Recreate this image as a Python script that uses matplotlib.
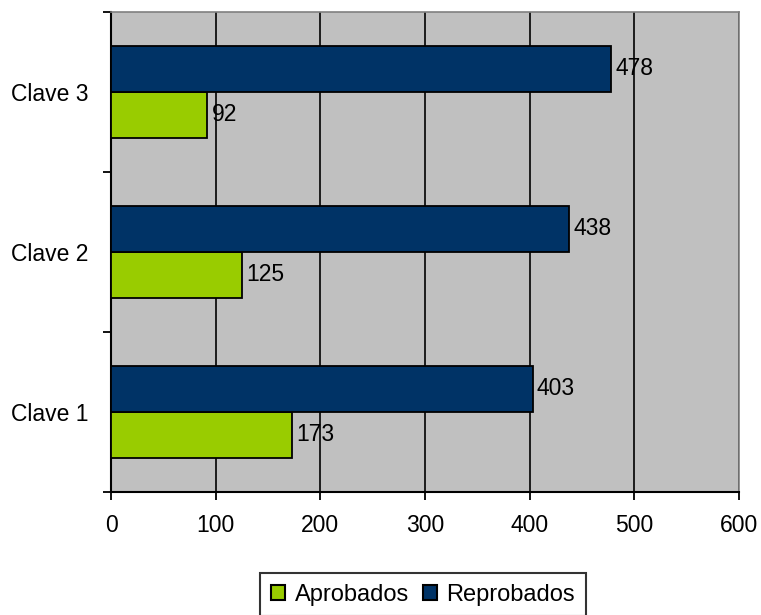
import matplotlib.pyplot as plt
import numpy as np

plt.rcParams['font.family'] = ['Liberation Sans', 'DejaVu Sans']

categories = ['Clave 1', 'Clave 2', 'Clave 3']
aprobados = [173, 125, 92]
reprobados = [403, 438, 478]
x_ticks = [0, 100, 200, 300, 400, 500, 600]

COLOR_APROBADOS = '#99CC00'
COLOR_REPROBADOS = '#003366'
FONT_SIZE = 16.5


def produce_plot():
    fig = plt.figure(figsize=(7.61, 6.15), dpi=100)
    ax = fig.add_axes([0.1459, 0.2, 0.825, 0.7805])
    ax.set_facecolor('#C0C0C0')

    y = np.arange(len(categories))
    height = 0.2875

    ax.barh(y - height / 2, aprobados, height, color=COLOR_APROBADOS, edgecolor='black',
            linewidth=1.3, label='Aprobados', zorder=3)
    ax.barh(y + height / 2, reprobados, height, color=COLOR_REPROBADOS, edgecolor='black',
            linewidth=1.3, label='Reprobados', zorder=3)

    # value labels to the right of each bar
    for yi, v in zip(y - height / 2, aprobados):
        ax.annotate(str(v), (v, yi), xytext=(3, 0), textcoords='offset points',
                    va='center', ha='left', fontsize=FONT_SIZE, zorder=4)
    for yi, v in zip(y + height / 2, reprobados):
        ax.annotate(str(v), (v, yi), xytext=(3, 0), textcoords='offset points',
                    va='center', ha='left', fontsize=FONT_SIZE, zorder=4)

    ax.set_xlim(0, 600)
    ax.set_ylim(-0.5, 2.5)
    ax.set_xticks(x_ticks)
    ax.set_xticklabels([str(t) for t in x_ticks], fontsize=FONT_SIZE)
    ax.tick_params(axis='x', direction='out', length=6, width=1.3, pad=10)

    # major ticks at category boundaries, labels on minor ticks at centres
    ax.set_yticks([-0.5, 0.5, 1.5, 2.5])
    ax.set_yticklabels([])
    ax.tick_params(axis='y', which='major', direction='out', length=6, width=1.3)
    ax.set_yticks(y, minor=True)
    ax.set_yticklabels(categories, minor=True, fontsize=FONT_SIZE)
    ax.tick_params(axis='y', which='minor', length=0, pad=16)

    ax.grid(axis='x', color='black', linewidth=1.2, zorder=1)
    ax.set_axisbelow(True)

    for side in ['left', 'bottom']:
        ax.spines[side].set_color('black')
        ax.spines[side].set_linewidth(1.5)
    for side in ['top', 'right']:
        ax.spines[side].set_color('#808080')
        ax.spines[side].set_linewidth(1.2)

    # legend sits low, partly cut off by the figure edge as in the original
    leg = fig.legend(loc='upper center', bbox_to_anchor=(0.556, 0.0683), ncol=2, fontsize=17,
                     frameon=True, fancybox=False, edgecolor='black',
                     handlelength=0.6, handleheight=0.6, handletextpad=0.4,
                     columnspacing=0.6, borderpad=0.45, borderaxespad=0)
    leg.get_frame().set_linewidth(1.5)
    for h in leg.legend_handles:
        h.set_linewidth(1.5)

    plt.savefig('out.png', dpi=100, facecolor='w')


if __name__ == "__main__":
    produce_plot()
